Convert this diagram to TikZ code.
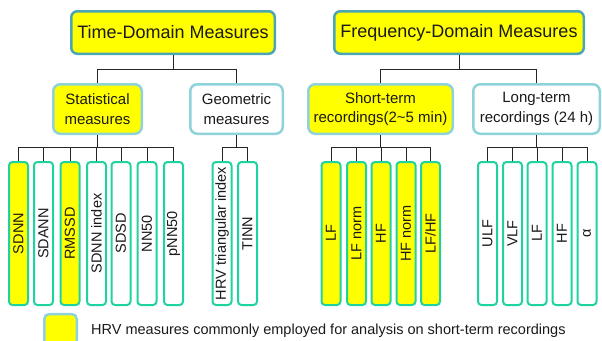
\documentclass[tikz,border=0pt]{standalone}
\usepackage{fontspec}
\setmainfont{Liberation Sans}
\usepackage{graphicx}
\definecolor{topc}{HTML}{4AA6B4}
\definecolor{midc}{HTML}{8ED3DA}
\definecolor{leafc}{HTML}{1FD3A0}
\definecolor{ylw}{HTML}{FFFF00}
\definecolor{txt}{HTML}{1A1A1A}
\tikzset{
  topbox/.style={draw=topc, line width=2.5pt, rounded corners=6pt, fill=ylw, inner sep=0pt,
    minimum height=42.5pt, text=txt, font=\fontsize{18}{22}\selectfont},
  midbox/.style={draw=midc, line width=2.5pt, rounded corners=7pt, inner sep=0pt,
    minimum height=49.5pt, align=center, text=txt, font=\fontsize{15}{19.5}\selectfont},
  leafbox/.style={draw=leafc, line width=2pt, rounded corners=3.5pt, inner sep=0pt,
    minimum width=19pt, minimum height=143pt, text=txt, font=\fontsize{14.5}{17}\selectfont},
  yl/.style={fill=ylw},
  wh/.style={fill=white},
  conn/.style={draw=black!85, line width=0.8pt},
}
\newcommand{\rt}[1]{\rotatebox{90}{#1}}
\begin{document}
\begin{tikzpicture}[x=1pt,y=-1pt]
\useasboundingbox (0,0) rectangle (602,340);
% top level
\node[topbox, minimum width=203.5pt] (td) at (173,32.5) {Time-Domain Measures};
\node[topbox, minimum width=249.5pt] (fd) at (459,32.5) {Frequency-Domain Measures};
% second level
\node[midbox, yl, minimum width=88.5pt] (stat) at (97.5,109) {Statistical\\measures};
\node[midbox, wh, minimum width=92.5pt] (geo) at (236.5,109) {Geometric\\measures};
\node[midbox, yl, minimum width=144.5pt] (st) at (380.5,109) {Short-term\\recordings(2\char"007E 5 min)};
\node[midbox, wh, minimum width=126.5pt] (lt) at (536.5,109) {Long-term\\recordings (24 h)};
% leaves
\node[leafbox, yl] (l1) at (18.5,233.5) {\rt{SDNN}};
\node[leafbox, wh] (l2) at (43.5,233.5) {\rt{SDANN}};
\node[leafbox, yl] (l3) at (70,233.5) {\rt{RMSSD}};
\node[leafbox, wh] (l4) at (96.5,233.5) {\rt{SDNN index}};
\node[leafbox, wh] (l5) at (121,233.5) {\rt{SDSD}};
\node[leafbox, wh] (l6) at (147,233.5) {\rt{NN50}};
\node[leafbox, wh] (l7) at (173.5,233.5) {\rt{pNN50}};
\node[leafbox, wh] (g1) at (222,233.5) {\rt{HRV triangular index}};
\node[leafbox, wh] (g2) at (247.5,233.5) {\rt{TINN}};
\node[leafbox, yl] (s1) at (331,233.5) {\rt{LF}};
\node[leafbox, yl] (s2) at (356.5,233.5) {\rt{LF norm}};
\node[leafbox, yl] (s3) at (381,233.5) {\rt{HF}};
\node[leafbox, yl] (s4) at (406,233.5) {\rt{HF norm}};
\node[leafbox, yl] (s5) at (430.5,233.5) {\rt{LF/HF}};
\node[leafbox, wh] (r1) at (487.5,233.5) {\rt{ULF}};
\node[leafbox, wh] (r2) at (512.5,233.5) {\rt{VLF}};
\node[leafbox, wh] (r3) at (537,233.5) {\rt{LF}};
\node[leafbox, wh] (r4) at (562,233.5) {\rt{HF}};
\node[leafbox, wh] (r5) at (587,233.5) {\rt{α}};
% connectors level 1
\draw[conn] (td.south) -- (td.south |- 0,69);
\draw[conn] (stat.north) -- (stat.north |- 0,69) -- (geo.north |- 0,69) -- (geo.north);
\draw[conn] (fd.south) -- (fd.south |- 0,69);
\draw[conn] (st.north) -- (st.north |- 0,69) -- (lt.north |- 0,69) -- (lt.north);
% connectors level 2
\draw[conn] (stat.south) -- (stat.south |- 0,147);
\draw[conn] (l1.north) -- (l1.north |- 0,147) -- (l7.north |- 0,147) -- (l7.north);
\foreach \n in {l2,l3,l4,l5,l6} \draw[conn] (\n.north) -- (\n.north |- 0,147);
\draw[conn] (geo.south) -- (geo.south |- 0,147);
\draw[conn] (g1.north) -- (g1.north |- 0,147) -- (g2.north |- 0,147) -- (g2.north);
\draw[conn] (st.south) -- (st.south |- 0,147);
\draw[conn] (s1.north) -- (s1.north |- 0,147) -- (s5.north |- 0,147) -- (s5.north);
\foreach \n in {s2,s3,s4} \draw[conn] (\n.north) -- (\n.north |- 0,147);
\draw[conn] (lt.south) -- (lt.south |- 0,147);
\draw[conn] (r1.north) -- (r1.north |- 0,147) -- (r5.north |- 0,147) -- (r5.north);
\foreach \n in {r2,r3,r4} \draw[conn] (\n.north) -- (\n.north |- 0,147);
% legend
\node[draw=midc, line width=2.5pt, rounded corners=5pt, fill=ylw, minimum width=32.5pt, minimum height=32pt, inner sep=0pt] (leg) at (60.5,330) {};
\node[anchor=west, inner sep=0pt, text=txt, font=\fontsize{14.5}{17}\selectfont] (legt) at (91,331) {HRV measures commonly employed for analysis on short-term recordings};
\end{tikzpicture}
\end{document}
